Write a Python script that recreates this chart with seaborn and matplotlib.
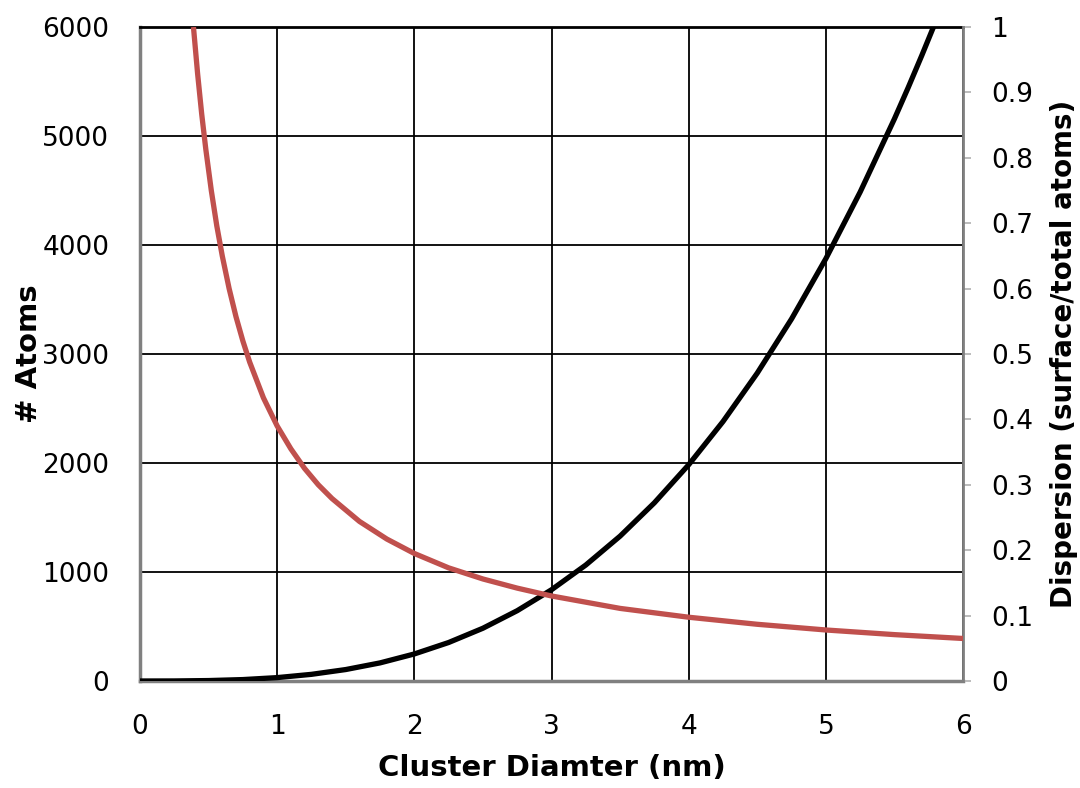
import numpy as np
import pandas as pd
import matplotlib
matplotlib.use("Agg")
import matplotlib.pyplot as plt
import seaborn as sns

# Number of atoms in a cluster vs. cluster diameter
diam_atoms = [0.0, 0.25, 0.5, 0.75, 1.0, 1.25, 1.5, 1.75, 2.0, 2.25, 2.5, 2.75,
              3.0, 3.25, 3.5, 3.75, 4.0, 4.25, 4.5, 4.75, 5.0, 5.25, 5.5, 5.6,
              5.7, 5.8]
n_atoms = [0, 0.5, 4, 13, 31, 61, 105, 166, 248, 353, 484, 645,
           837, 1064, 1329, 1635, 1984, 2380, 2825, 3322, 3875, 4486, 5158, 5444,
           5741, 6048]

# Dispersion (surface / total atoms) vs. cluster diameter
diam_disp = [0.39, 0.42, 0.45, 0.48, 0.52, 0.56, 0.6, 0.65, 0.7, 0.75, 0.8, 0.9,
             1.0, 1.1, 1.2, 1.3, 1.4, 1.6, 1.8, 2.0, 2.25, 2.5, 2.75, 3.0,
             3.5, 4.0, 4.5, 5.0, 5.5, 6.0]
dispersion = [1.0, 0.929, 0.867, 0.813, 0.75, 0.696, 0.65, 0.6, 0.557, 0.52, 0.4875, 0.433,
              0.39, 0.355, 0.325, 0.3, 0.279, 0.244, 0.217, 0.195, 0.173, 0.156, 0.142, 0.13,
              0.111, 0.0975, 0.0867, 0.078, 0.0709, 0.065]

x_ticks = [0, 1, 2, 3, 4, 5, 6]
left_ticks = [0, 1000, 2000, 3000, 4000, 5000, 6000]
right_ticks = [0, 0.1, 0.2, 0.3, 0.4, 0.5, 0.6, 0.7, 0.8, 0.9, 1.0]
right_labels = ["0", "0.1", "0.2", "0.3", "0.4", "0.5", "0.6", "0.7", "0.8", "0.9", "1"]

sns.set_theme(style="white")
plt.rcParams["font.family"] = ["DejaVu Sans"]
plt.rcParams["text.color"] = "black"
plt.rcParams["axes.labelcolor"] = "black"

df_atoms = pd.DataFrame({"d": diam_atoms, "n": n_atoms})
df_disp = pd.DataFrame({"d": diam_disp, "disp": dispersion})

fig = plt.figure(figsize=(10.8, 7.88), dpi=100)
ax = fig.add_axes([0.1296, 0.1358, 0.7621, 0.8299])
ax2 = ax.twinx()

sns.lineplot(data=df_atoms, x="d", y="n", ax=ax, color="black", linewidth=3.8,
             solid_capstyle="butt", zorder=5)
sns.lineplot(data=df_disp, x="d", y="disp", ax=ax2, color="#c0504d", linewidth=3.8,
             solid_capstyle="butt", zorder=5)

ax.set_xlim(0, 6)
ax.set_ylim(0, 6000)
ax2.set_ylim(0, 1)
ax.set_xticks(x_ticks)
ax.set_yticks(left_ticks)
ax2.set_yticks(right_ticks)
ax2.set_yticklabels(right_labels)

ax.grid(True, color="black", linewidth=1.3)
ax.set_axisbelow(True)
ax2.grid(False)

for sp in ["left", "bottom"]:
    ax.spines[sp].set_color("#808080")
    ax.spines[sp].set_linewidth(2.5)
ax.spines["top"].set_color("black")
ax.spines["top"].set_linewidth(2.0)
ax.spines["right"].set_visible(False)
for sp in ["left", "bottom", "top"]:
    ax2.spines[sp].set_visible(False)
ax2.spines["right"].set_color("#808080")
ax2.spines["right"].set_linewidth(2.0)

ax.tick_params(axis="x", labelsize=19, length=0, pad=24, colors="black")
ax.tick_params(axis="y", labelsize=19, length=0, pad=22, colors="black")
ax2.tick_params(axis="y", labelsize=19, length=6, width=1.2, color="#b0b0b0",
                direction="out", pad=14, labelcolor="black")

ax.set_xlabel("Cluster Diamter (nm)", fontsize=21, fontweight="bold", labelpad=10)
ax.set_ylabel("# Atoms", fontsize=21, fontweight="bold")
ax2.set_ylabel("Dispersion (surface/total atoms)", fontsize=20, fontweight="bold")
ax.yaxis.set_label_coords(-0.118, 0.5)
ax2.yaxis.set_label_coords(1.106, 0.5)

fig.savefig("out.png", dpi=100)
